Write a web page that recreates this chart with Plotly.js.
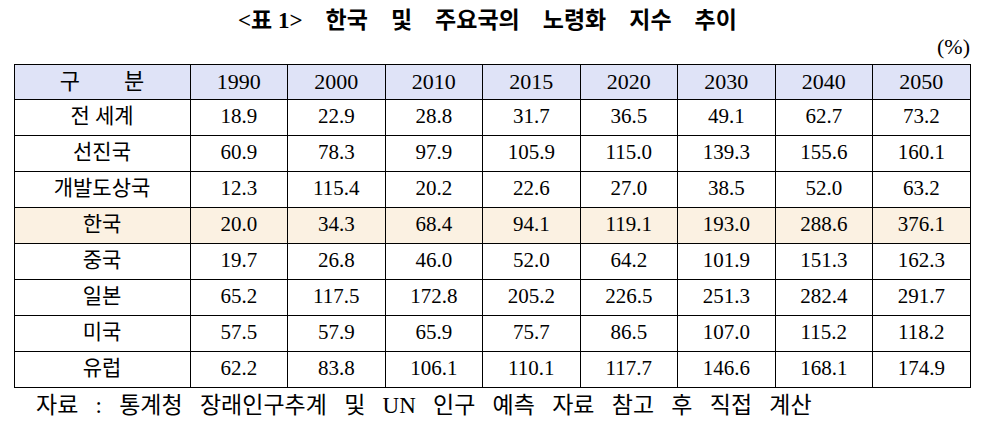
<!DOCTYPE html>
<html>
<head>
<meta charset="utf-8">
<script src="https://cdn.plot.ly/plotly-3.0.1.min.js"></script>
<style>html,body{margin:0;padding:0;background:#fff;}#chart{width:985px;height:422px;}</style>
</head>
<body>
<div id="chart"></div>
<script>
const headerLabels = ['구　　분', '1990', '2000', '2010', '2015', '2020', '2030', '2040', '2050'];
const regions = ['전 세계', '선진국', '개발도상국', '한국', '중국', '일본', '미국', '유럽'];
const v1990 = ['18.9', '60.9', '12.3', '20.0', '19.7', '65.2', '57.5', '62.2'];
const v2000 = ['22.9', '78.3', '115.4', '34.3', '26.8', '117.5', '57.9', '83.8'];
const v2010 = ['28.8', '97.9', '20.2', '68.4', '46.0', '172.8', '65.9', '106.1'];
const v2015 = ['31.7', '105.9', '22.6', '94.1', '52.0', '205.2', '75.7', '110.1'];
const v2020 = ['36.5', '115.0', '27.0', '119.1', '64.2', '226.5', '86.5', '117.7'];
const v2030 = ['49.1', '139.3', '38.5', '193.0', '101.9', '251.3', '107.0', '146.6'];
const v2040 = ['62.7', '155.6', '52.0', '288.6', '151.3', '282.4', '115.2', '168.1'];
const v2050 = ['73.2', '160.1', '63.2', '376.1', '162.3', '291.7', '118.2', '174.9'];
const highlight = '한국';

const columns = [regions, v1990, v2000, v2010, v2015, v2020, v2030, v2040, v2050];
const rowFill = regions.map(r => r === highlight ? '#fbf1e2' : '#ffffff');
const fills = columns.map(() => rowFill);

const W = 985, H = 422;
const font = 'Liberation Serif, "Noto Sans CJK KR", serif';

const trace = {
  type: 'table',
  domain: {x: [14 / W, 970 / W], y: [1 - 388 / H, 1 - 64 / H]},
  columnwidth: [176, 97.5, 97.5, 97.5, 97.5, 97.5, 97.5, 97.5, 97.5],
  header: {
    values: headerLabels,
    align: 'center',
    height: 35,
    fill: {color: '#dfe3f7'},
    line: {color: '#000000', width: 1},
    font: {family: font, size: 22, color: '#000000'}
  },
  cells: {
    values: columns,
    align: 'center',
    height: 36,
    fill: {color: fills},
    line: {color: '#000000', width: 1},
    font: {family: font, size: 21, color: '#000000'}
  }
};

const layout = {
  width: W, height: H,
  margin: {l: 0, r: 0, t: 0, b: 0},
  paper_bgcolor: '#ffffff',
  showlegend: false,
  annotations: [
    {text: '<b>&lt;표 1&gt;    한국    및    주요국의    노령화    지수    추이</b>', x: 487 / W, y: 1 - 20 / H,
     xref: 'paper', yref: 'paper', xanchor: 'center', yanchor: 'middle', showarrow: false,
     font: {family: font, size: 23, color: '#000'}},
    {text: '(%)', x: 972 / W, y: 1 - 46 / H, xref: 'paper', yref: 'paper',
     xanchor: 'right', yanchor: 'middle', showarrow: false,
     font: {family: font, size: 22, color: '#000'}},
    {text: '자료   :   통계청   장래인구추계   및   UN   인구   예측   자료   참고   후   직접   계산', x: 34 / W, y: 1 - 405 / H,
     xref: 'paper', yref: 'paper', xanchor: 'left', yanchor: 'middle', showarrow: false,
     font: {family: font, size: 23, color: '#000'}}
  ]
};

Plotly.newPlot('chart', [trace], layout, {displayModeBar: false, staticPlot: true});
</script>
</body>
</html>
